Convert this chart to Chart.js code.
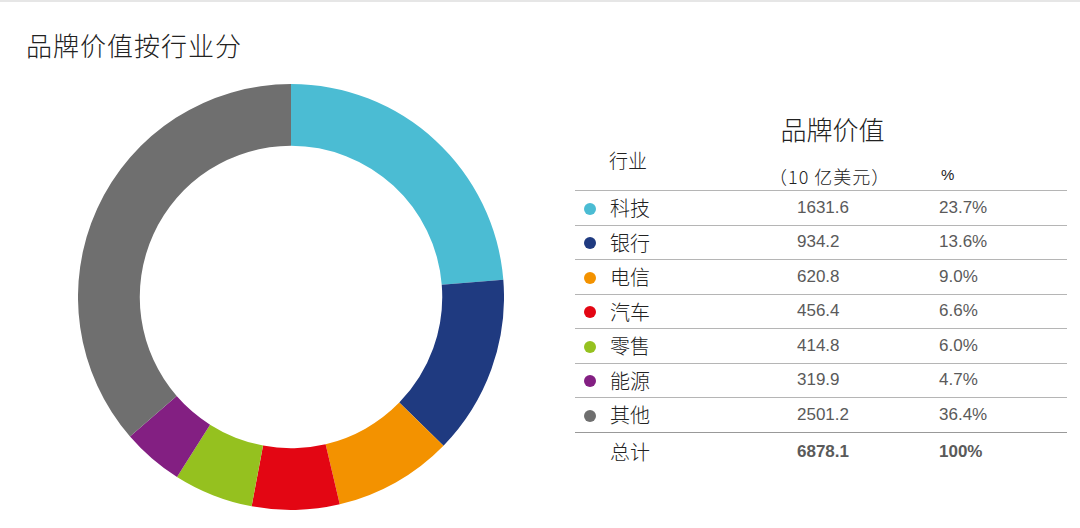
<!DOCTYPE html>
<html lang="zh-CN">
<head>
<meta charset="utf-8">
<script src="https://cdn.jsdelivr.net/npm/chart.js@4/dist/chart.umd.min.js"></script>
<style>
  html, body { margin: 0; padding: 0; background: #fff; }
  body { width: 1080px; height: 528px; position: relative; overflow: hidden;
         font-family: "Noto Sans CJK SC", "Noto Sans", sans-serif; border-top: 2px solid #e6e6e6; box-sizing: border-box; }
  #title { position: absolute; left: 26px; top: 24px; font-size: 26px; font-weight: 300; color: #222; letter-spacing: 1px; }
  #chart-box { position: absolute; left: 78px; top: 82px; width: 426px; height: 426px; }
  #table-box { position: absolute; left: 575px; top: 108px; width: 492px; }
  .head-main { position: absolute; left: 200px; top: 0; width: 115px; text-align: center; font-size: 26px; font-weight: 300; color: #222; }
  .head-ind { position: absolute; left: 34px; top: 36px; font-size: 19px; font-weight: 300; color: #222; }
  .head-unit { position: absolute; left: 194px; top: 53px; font-size: 18px; font-weight: 300; color: #222; letter-spacing: 1px; }
  .head-pct { position: absolute; left: 366px; top: 56px; font-size: 15px; color: #222; font-family: "Liberation Sans", sans-serif; }
  table { position: absolute; left: 0; top: 80px; width: 492px; border-collapse: collapse; }
  td { height: 33.5px; padding: 0; border-top: 1.5px solid #b5b5b5; vertical-align: middle; }
  tr.total td { border-top: 1.5px solid #999; height: 38px; }
  .dot { width: 35px; }
  .dot span { display: inline-block; width: 12px; height: 12px; border-radius: 50%; margin-left: 9px; }
  .name { width: 187px; font-size: 20px; font-weight: 300; color: #222; }
  .val { width: 142px; font-family: "Liberation Sans", sans-serif; font-size: 17px; color: #5a5a5a; }
  .pct { font-family: "Liberation Sans", sans-serif; font-size: 17px; color: #5a5a5a; }
  tr.total .val, tr.total .pct { font-weight: bold; }
</style>
</head>
<body>
<div id="title">品牌价值按行业分</div>
<div id="chart-box"><canvas id="donut"></canvas></div>
<div id="table-box">
  <div class="head-main">品牌价值</div>
  <div class="head-ind">行业</div>
  <div class="head-unit">（10 亿美元）</div>
  <div class="head-pct">%</div>
  <table id="legend-table"></table>
</div>
<script>
// industries, brand value (billion USD) and share
const industries = ['科技', '银行', '电信', '汽车', '零售', '能源', '其他'];
const brandValues = [1631.6, 934.2, 620.8, 456.4, 414.8, 319.9, 2501.2];
const shareLabels = ['23.7%', '13.6%', '9.0%', '6.6%', '6.0%', '4.7%', '36.4%'];
const colors = ['#4bbcd3', '#1f3a80', '#f39200', '#e30613', '#95c11f', '#831f82', '#6f6f6f'];
const totalLabel = '总计';
const totalValue = '6878.1';
const totalShare = '100%';

// build the table on the right
const table = document.getElementById('legend-table');
industries.forEach((name, i) => {
  const row = document.createElement('tr');
  row.innerHTML =
    '<td class="dot"><span style="background:' + colors[i] + '"></span></td>' +
    '<td class="name">' + name + '</td>' +
    '<td class="val">' + brandValues[i].toFixed(1) + '</td>' +
    '<td class="pct">' + shareLabels[i] + '</td>';
  table.appendChild(row);
});
const totalRow = document.createElement('tr');
totalRow.className = 'total';
totalRow.innerHTML = '<td class="dot"></td><td class="name">' + totalLabel + '</td>' +
  '<td class="val">' + totalValue + '</td><td class="pct">' + totalShare + '</td>';
table.appendChild(totalRow);

// doughnut
new Chart(document.getElementById('donut'), {
  type: 'doughnut',
  data: {
    labels: industries,
    datasets: [{
      data: brandValues,
      backgroundColor: colors,
      borderWidth: 0
    }]
  },
  options: {
    responsive: true,
    maintainAspectRatio: false,
    animation: false,
    cutout: '71%',
    layout: { padding: 0 },
    plugins: {
      legend: { display: false },
      tooltip: { enabled: false }
    }
  }
});
</script>
</body>
</html>
